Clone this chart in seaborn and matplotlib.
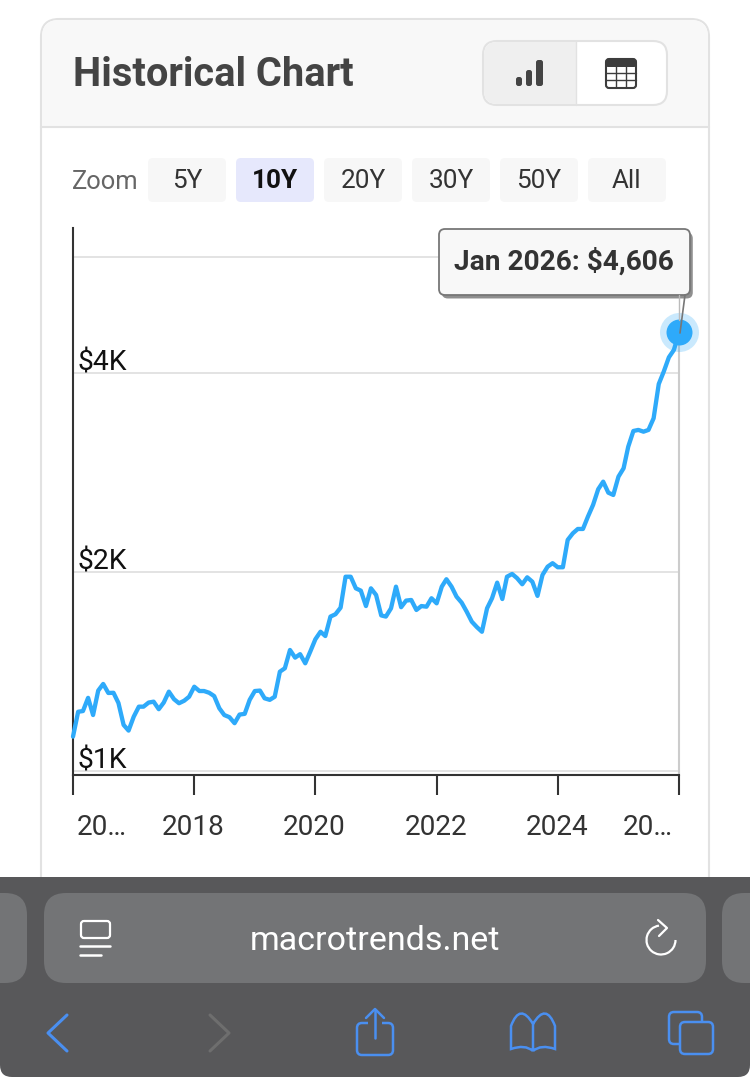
import numpy as np
import pandas as pd
import seaborn as sns
import matplotlib
matplotlib.use("Agg")
import matplotlib.pyplot as plt
from matplotlib.patches import FancyBboxPatch, Rectangle, Circle, Arc, PathPatch, Polygon
from matplotlib.path import Path
from matplotlib.ticker import NullLocator
from matplotlib.transforms import ScaledTranslation
import matplotlib.patheffects as pe

# ---------- data ----------
start_month = "2016-01-01"
gold_price = [
    1127, 1229, 1232, 1290, 1215, 1323, 1354, 1312, 1313, 1267, 1174, 1151,
    1208, 1251, 1251, 1269, 1273, 1240, 1269, 1318, 1284, 1266, 1277, 1295,
    1341, 1321, 1321, 1313, 1298, 1244, 1215, 1206, 1181, 1217, 1220, 1281,
    1321, 1323, 1288, 1281, 1295, 1413, 1430, 1524, 1484, 1502, 1455, 1515,
    1582, 1624, 1600, 1712, 1726, 1766, 1967, 1967, 1889, 1874, 1776, 1889,
    1846, 1719, 1712, 1762, 1900, 1769, 1810, 1814, 1752, 1776, 1772, 1825,
    1793, 1900, 1950, 1900, 1835, 1797, 1742, 1682, 1650, 1624, 1762, 1825,
    1927, 1820, 1967, 1986, 1957, 1916, 1963, 1933, 1840, 1979, 2037, 2062,
    2033, 2033, 2236, 2288, 2323, 2323, 2425, 2526, 2668, 2739, 2636, 2615,
    2787, 2870, 3094, 3268, 3280, 3260, 3280, 3416, 3849, 4018, 4224, 4333,
    4606,
]
x_tick_years = [2016, 2018, 2020, 2022, 2024, 2026]
x_tick_labels = ["20…", "2018", "2020", "2022", "2024", "20…"]
y_tick_values = [1000, 2000, 4000, 6000]
y_tick_labels = ["$1K", "$2K", "$4K", ""]
zoom_labels = ["5Y", "10Y", "20Y", "30Y", "50Y", "All"]
active_zoom = "10Y"

df = pd.DataFrame({
    "date": pd.date_range(start_month, periods=len(gold_price), freq="MS"),
    "price": gold_price,
})

# ---------- theme ----------
sns.set_theme(style="white")
plt.rcParams["font.family"] = ["Roboto", "DejaVu Sans"]

W, H = 750, 1077
fig = plt.figure(figsize=(W / 100, H / 100), dpi=100, facecolor="white")

# ---------- background chrome, pixel coordinates ----------
bg = fig.add_axes([0, 0, 1, 1], zorder=0)
bg.set_xlim(0, W); bg.set_ylim(H, 0); bg.axis("off")

def rbox(ax, x0, y0, x1, y1, r, fc, ec="none", lw=0, **kw):
    p = FancyBboxPatch((x0 + r, y0 + r), x1 - x0 - 2 * r, y1 - y0 - 2 * r,
                       boxstyle=f"round,pad={r},rounding_size={r}",
                       fc=fc, ec=ec, lw=lw, **kw)
    ax.add_patch(p)
    return p

# card
rbox(bg, 41, 19, 709, 920, 18, "white", "#e2e2e2", 1.5)
head = rbox(bg, 42, 20, 708, 160, 17, "#f8f8f8")
head.set_clip_path(Rectangle((0, 0), W, 127, transform=bg.transData))
bg.plot([41, 709], [127, 127], color="#e2e2e2", lw=1.5)
bg.text(73, 75.5, "Historical Chart", fontsize=28.7, fontweight="bold", color="#444444",
        va="center", ha="left")

# toggle
rbox(bg, 483, 41, 667, 105, 14, "white", "#e2e2e2", 1.5)
seg = rbox(bg, 484, 42, 600, 104, 13, "#efefef")
seg.set_clip_path(Rectangle((0, 0), 575.5, H, transform=bg.transData))
bg.plot([575.5, 575.5], [41, 105], color="#e2e2e2", lw=1)
for x0, x1, y0 in [(516, 522, 77), (526, 532, 70), (536, 543, 60)]:
    rbox(bg, x0, y0, x1, 86, 2.4, "#444444")
rbox(bg, 606, 59, 636, 88, 3, "white", "#3c3c3c", 1.5)
rbox(bg, 606, 59, 636, 67, 2, "#3c3c3c")
for gx in (616, 626):
    bg.plot([gx, gx], [66, 87], color="#3c3c3c", lw=1)
for gy in (73, 80):
    bg.plot([606, 636], [gy, gy], color="#3c3c3c", lw=1)

# zoom buttons
bg.text(105, 182, "Zoom", fontsize=18.4, color="#666666", ha="center", va="center")
for i, lab in enumerate(zoom_labels):
    x0 = 148 + 88 * i
    active = lab == active_zoom
    rbox(bg, x0, 158, x0 + 78, 202, 5, "#e6e8fc" if active else "#f7f7f7")
    bg.text(x0 + 39, 181.5, lab, fontsize=18.8, ha="center", va="center",
            color="#111111" if active else "#333333",
            fontweight="bold" if active else "normal")

# ---------- chart ----------
ax = fig.add_axes([73 / W, (H - 775) / H, (679 - 73) / W, (775 - 228) / H], zorder=1)
ax.patch.set_alpha(0)
ax.set_yscale("log")
sns.lineplot(data=df, x="date", y="price", ax=ax, color="#2eaafa", linewidth=3.1,
             clip_on=False, zorder=3)
ax.set_xlim(df["date"].iloc[0], df["date"].iloc[-1])
ax.set_ylim(986, 6627)
ax.set_xlabel(""); ax.set_ylabel("")
ax.yaxis.set_minor_locator(NullLocator())
ax.set_yticks(y_tick_values)
ax.set_yticklabels(y_tick_labels)
ax.set_xticks(pd.to_datetime([f"{y}-01-01" for y in x_tick_years]))
ax.set_xticklabels(x_tick_labels)
ax.grid(True, axis="y", color="#e3e3e3", lw=1.4)
ax.grid(False, axis="x")
ax.tick_params(axis="y", length=0, pad=-3.2, labelsize=20.4, labelcolor="#111111")
ax.tick_params(axis="x", length=14.4, width=1.5, color="#333333", pad=13.5,
               labelsize=20.2, labelcolor="#333333", bottom=True)
for t in ax.get_yticklabels():
    t.set_ha("left"); t.set_va("bottom")
    t.set_transform(t.get_transform() + ScaledTranslation(0, -0.035, fig.dpi_scale_trans))
for t in ax.get_xticklabels():
    t.set_transform(t.get_transform() + ScaledTranslation(-0.01, 0, fig.dpi_scale_trans))
xl = ax.get_xticklabels()
xl[0].set_transform(xl[0].get_transform() + ScaledTranslation(0.30, 0, fig.dpi_scale_trans))
xl[-1].set_transform(xl[-1].get_transform() + ScaledTranslation(-0.30, 0, fig.dpi_scale_trans))
for s in ("top", "right"):
    ax.spines[s].set_visible(False)
for s in ("left", "bottom"):
    ax.spines[s].set_color("#333333"); ax.spines[s].set_linewidth(1.5)

# crosshair + last point
last_date, last_val = df["date"].iloc[-1], df["price"].iloc[-1]
ax.plot([last_date, last_date], [986, last_val], color="#cccccc", lw=1.5, zorder=2, clip_on=False)
ax.scatter([last_date], [last_val], s=790, color="#2eaafa", alpha=0.25, lw=0, zorder=4, clip_on=False)
ax.scatter([last_date], [last_val], s=350, color="#2eaafa", lw=0, zorder=5, clip_on=False)

# ---------- foreground: tooltip + browser bar ----------
fg = fig.add_axes([0, 0, 1, 1], zorder=2)
fg.set_xlim(0, W); fg.set_ylim(H, 0); fg.axis("off"); fg.patch.set_alpha(0)

fg.plot([685, 680], [295, 333], color="#777777", lw=1.2)
fg.plot([679, 679], [295, 320], color="#bbbbbb", lw=1.0)
box = rbox(fg, 439, 229, 690, 295, 6, "#f8f8f8", "#777777", 1.3,
           path_effects=[pe.SimplePatchShadow(offset=(2, -2.5), shadow_rgbFace="#444444", alpha=0.6), pe.Normal()])
month_label = df["date"].iloc[-1].strftime("%b %Y")
fg.text(564, 262, f"{month_label}: ${last_val:,}", fontsize=20.2, fontweight="bold", color="#333333",
        ha="center", va="center")

# browser bar
bar = rbox(fg, 0, 840, W, H, 12, "#58585a")
bar.set_clip_path(Rectangle((0, 877), W, 200, transform=fg.transData))
rbox(fg, 44, 893, 706, 983, 22, "#737476")
rbox(fg, -60, 893, 27, 983, 22, "#737476")
rbox(fg, 722, 893, 800, 983, 22, "#737476")
fg.text(375, 940.5, "macrotrends.net", fontsize=24.5, color="white", ha="center", va="center")

# reader icon
rbox(fg, 81, 921, 110, 938, 3, "none", "white", 1.6)
fg.plot([80, 110], [946, 946], color="white", lw=1.8, solid_capstyle="round")
fg.plot([80, 101], [955, 955], color="white", lw=1.8, solid_capstyle="round")
# reload icon
fg.add_patch(Arc((661, 940), 29, 29, theta1=0, theta2=262, color="white", lw=1.6))
fg.plot([658, 667, 659], [920, 928, 936], color="white", lw=1.6, solid_joinstyle="round")

blue = "#4a8ff0"
fg.plot([67, 48, 67], [1015, 1033, 1051], color=blue, lw=2.2, solid_capstyle="round")
fg.plot([210, 229, 210], [1015, 1033, 1051], color="#6e6e6e", lw=2.2, solid_capstyle="round")
# share
rbox(fg, 357, 1023, 393, 1055, 5, "none", blue, 1.8)
fg.add_patch(Rectangle((368, 1016), 14, 10, fc="#58585a", ec="none"))
fg.plot([375, 375], [1010, 1038], color=blue, lw=1.8)
fg.plot([366, 375, 384], [1018, 1009, 1018], color=blue, lw=1.8)
# book
bk = Path([(533, 1051), (525, 1044), (511, 1049), (511, 1049), (511, 1026), (511, 1026),
           (520, 1002), (533, 1024), (533, 1024), (533, 1051), (533, 1051),
           (541, 1044), (555, 1049), (555, 1049), (555, 1026), (555, 1026),
           (546, 1002), (533, 1024)],
          [Path.MOVETO, Path.CURVE3, Path.CURVE3, Path.LINETO, Path.LINETO, Path.LINETO,
           Path.CURVE3, Path.CURVE3, Path.LINETO, Path.LINETO, Path.MOVETO,
           Path.CURVE3, Path.CURVE3, Path.LINETO, Path.LINETO, Path.LINETO,
           Path.CURVE3, Path.CURVE3])
fg.add_patch(PathPatch(bk, fc="none", ec=blue, lw=1.8))
# tabs
rbox(fg, 669, 1012, 702, 1044, 5, "none", blue, 1.8)
rbox(fg, 680, 1022, 713, 1054, 5, "#58585a", blue, 1.8)

fig.savefig("out.png", dpi=100)
